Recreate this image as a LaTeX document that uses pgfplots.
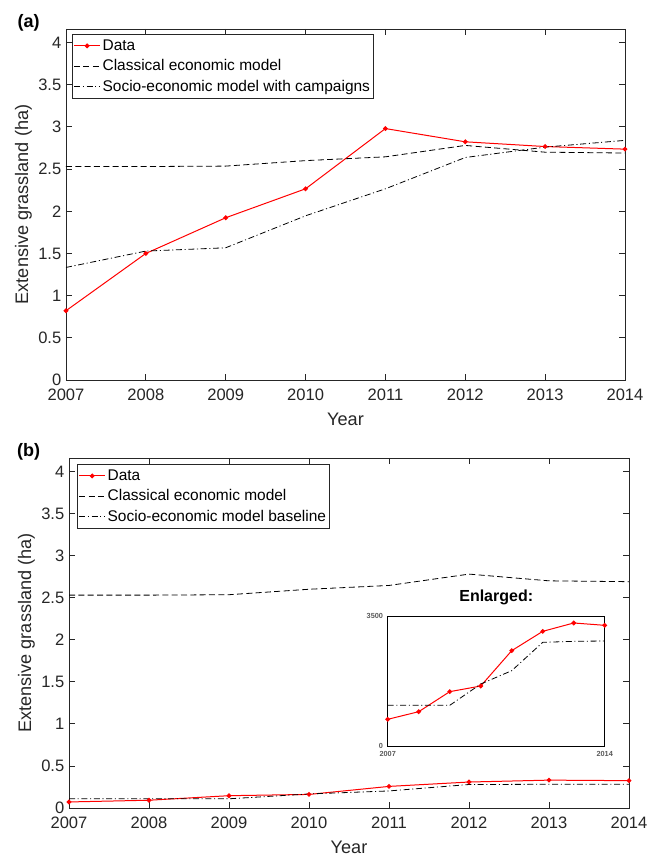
\documentclass[border=0pt]{standalone}
\usepackage{fontspec}
\setmainfont{Liberation Sans}
\usepackage{pgfplots}
\pgfplotsset{compat=1.18}
\definecolor{axgray}{gray}{0.15}
\definecolor{datared}{rgb}{1,0,0}
\pgfplotsset{
  mainax/.style={
    scale only axis,
    xmin=2007, xmax=2014, ymin=0, ymax=41600,
    xtick={2007,2008,2009,2010,2011,2012,2013,2014},
    xticklabels={2007,2008,2009,2010,2011,2012,2013,2014},
    ytick={0,5000,10000,15000,20000,25000,30000,35000,40000},
    yticklabels={0,0.5,1,1.5,2,2.5,3,3.5,4},
    scaled y ticks=false, scaled x ticks=false,
    tick label style={font=\fontsize{12.4}{14}\selectfont, text=axgray},
    xticklabel style={yshift=-3.5pt},
    axis line style={axgray, line width=0.6pt},
    tick style={axgray, line width=0.6pt},
    major tick length=4.5pt,
    tick align=inside,
    xlabel={Year},
    ylabel={Extensive grassland (ha)},
    every axis x label/.style={at={(rel axis cs:0.5,0)}, yshift=-29.5pt, anchor=center, font=\fontsize{13.6}{16}\selectfont, text=axgray},
    every axis y label/.style={at={(rel axis cs:0,0.5)}, xshift=-32pt, rotate=90, anchor=center, font=\fontsize{13.6}{16}\selectfont, text=axgray},
    legend cell align=left,
    legend image code/.code={\draw[mark repeat=2,mark phase=2,##1] plot coordinates {(0pt,0pt) (9.75pt,0pt) (19.5pt,0pt)};},
    legend style={font=\fontsize{11.6}{13}\selectfont, draw=axgray, line width=0.5pt, fill=white,
      inner xsep=1pt, inner ysep=2.8pt, row sep=3pt, anchor=north west,
      nodes={inner xsep=1.5pt, inner ysep=1.2pt, text=black}},
  },
  datastyle/.style={datared, line width=0.75pt, mark=*, mark size=1.4pt, mark options={solid, fill=datared, draw=datared}},
  classstyle/.style={black, line width=0.6pt, dash pattern=on 4.5pt off 2.5pt},
  sociostyle/.style={black, line width=0.6pt, dash pattern=on 4.5pt off 2pt on 0.8pt off 2pt},
}
\begin{document}
\begin{tikzpicture}
\useasboundingbox (0,0) rectangle (493.5pt,643.5pt);
% ---------------- Panel (a)
\begin{axis}[mainax,
  at={(49.5pt,358.5pt)}, anchor=south west,
  width=419.25pt, height=263.25pt,
  legend style={at={(rel axis cs:0.0107,0.986)}},
]
\addplot[datastyle] coordinates {(2007,8210) (2008,15000) (2009,19230) (2010,22660) (2011,29800) (2012,28230) (2013,27670) (2014,27360)};
\addlegendentry{Data}
\addplot[classstyle] coordinates {(2007,25300) (2008,25300) (2009,25350) (2010,26000) (2011,26450) (2012,27800) (2013,27000) (2014,26900)};
\addlegendentry{Classical economic model}
\addplot[sociostyle] coordinates {(2007,13340) (2008,15280) (2009,15670) (2010,19460) (2011,22660) (2012,26370) (2013,27600) (2014,28400)};
\addlegendentry{Socio-economic model with campaigns}
\node[anchor=base west, inner sep=0pt, font=\fontsize{11}{13}\selectfont, text=axgray] at (rel axis cs:0,1) [yshift=4pt, xshift=0.5pt] {×10\textsuperscript{4}};
\end{axis}
\node[font=\bfseries\fontsize{13.5}{16}\selectfont] at (21.4pt,626.25pt) {(a)};
% ---------------- Panel (b)
\begin{axis}[mainax,
  at={(51.75pt,37.5pt)}, anchor=south west,
  width=420pt, height=262.5pt,
  legend style={at={(rel axis cs:0.0143,0.983)}},
]
\addplot[datastyle] coordinates {(2007,718) (2008,924) (2009,1463) (2010,1615) (2011,2567) (2012,3087) (2013,3312) (2014,3249)};
\addlegendentry{Data}
\addplot[classstyle] coordinates {(2007,25300) (2008,25300) (2009,25350) (2010,26000) (2011,26450) (2012,27800) (2013,27000) (2014,26900)};
\addlegendentry{Classical economic model}
\addplot[sociostyle] coordinates {(2007,1095) (2008,1095) (2009,1095) (2010,1669) (2011,2028) (2012,2791) (2013,2818) (2014,2827)};
\addlegendentry{Socio-economic model baseline}
\node[anchor=base west, inner sep=0pt, font=\fontsize{11}{13}\selectfont, text=axgray] at (rel axis cs:0,1) [yshift=4pt, xshift=0.5pt] {×10\textsuperscript{4}};
\end{axis}
\node[font=\bfseries\fontsize{13.5}{16}\selectfont] at (21.4pt,304.5pt) {(b)};
% ---------------- Inset
\begin{axis}[
  scale only axis,
  at={(290.8pt,84pt)}, anchor=south west,
  width=162.75pt, height=97.5pt,
  xmin=2007, xmax=2014, ymin=0, ymax=3500,
  xtick={2007,2014}, xticklabels={2007,2014},
  ytick={0,3500}, yticklabels={0,3500},
  scaled y ticks=false,
  tick label style={font=\bfseries\fontsize{5.5}{6}\selectfont, text=black!65},
  xticklabel style={yshift=-0.5pt},
  axis line style={black, line width=0.7pt},
  tick style={black, line width=0.5pt},
  major tick length=2pt,
  axis background/.style={fill=white},
  title={Enlarged:},
  title style={font=\bfseries\fontsize{12}{14}\selectfont, at={(0.5,1)}, anchor=base, yshift=5pt},
]
\addplot[datastyle] coordinates {(2007,718) (2008,924) (2009,1463) (2010,1615) (2011,2567) (2012,3087) (2013,3312) (2014,3249)};
\addplot[sociostyle] coordinates {(2007,1095) (2008,1095) (2009,1095) (2010,1669) (2011,2028) (2012,2791) (2013,2818) (2014,2827)};
\end{axis}
\end{tikzpicture}
\end{document}
